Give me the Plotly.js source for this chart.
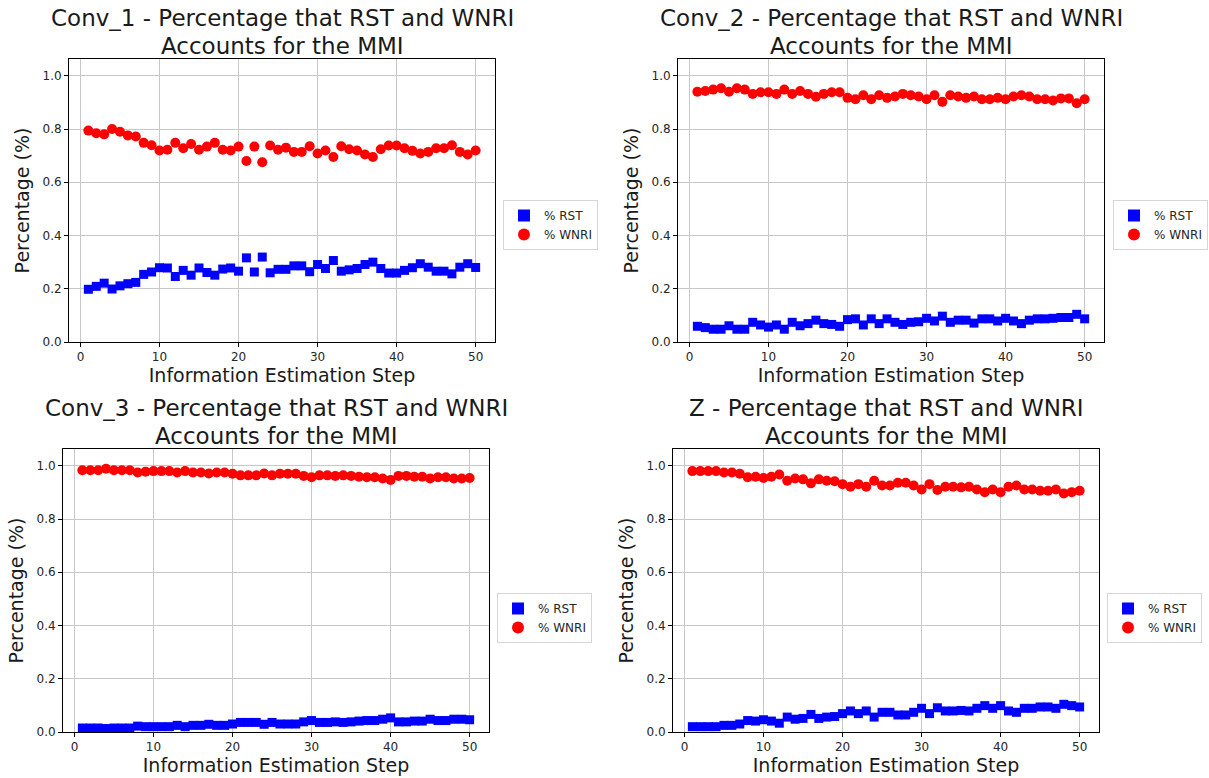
<!DOCTYPE html>
<html>
<head>
<meta charset="utf-8">
<script src="https://cdn.plot.ly/plotly-3.0.1.min.js"></script>
<style>html,body{margin:0;padding:0;background:#fff;}#chart{width:1209px;height:778px;}</style>
</head>
<body>
<div id="chart"></div>
<script>
const steps = Array.from({length: 50}, (_, i) => i + 1);
const panelNames = ["Conv_1", "Conv_2", "Conv_3", "Z"];
const seriesNames = ["% RST", "% WNRI"];
const yTickVals = [0, 0.2, 0.4, 0.6, 0.8, 1.0];
const xTickVals = [0, 10, 20, 30, 40, 50];

const conv1Rst = [0.198,0.209,0.221,0.199,0.211,0.219,0.224,0.254,0.263,0.279,0.278,0.246,0.269,0.251,0.278,0.261,0.251,0.274,0.278,0.266,0.316,0.263,0.319,0.260,0.273,0.273,0.286,0.286,0.264,0.291,0.276,0.306,0.266,0.271,0.276,0.291,0.300,0.276,0.259,0.259,0.269,0.279,0.294,0.281,0.266,0.266,0.256,0.281,0.294,0.280];
const conv1Wnri = [0.794,0.784,0.780,0.800,0.790,0.776,0.772,0.748,0.739,0.719,0.722,0.748,0.728,0.744,0.722,0.734,0.748,0.722,0.719,0.734,0.680,0.734,0.675,0.738,0.722,0.730,0.714,0.714,0.735,0.708,0.719,0.695,0.735,0.724,0.719,0.704,0.695,0.724,0.738,0.738,0.728,0.718,0.708,0.714,0.728,0.728,0.739,0.714,0.704,0.719];
const conv2Rst = [0.059,0.054,0.048,0.048,0.061,0.048,0.048,0.074,0.064,0.056,0.064,0.048,0.074,0.061,0.069,0.082,0.069,0.066,0.059,0.084,0.087,0.064,0.087,0.069,0.087,0.074,0.066,0.074,0.076,0.089,0.079,0.097,0.074,0.082,0.082,0.071,0.087,0.087,0.079,0.089,0.079,0.069,0.082,0.087,0.087,0.089,0.092,0.092,0.104,0.087];
const conv2Wnri = [0.940,0.943,0.948,0.953,0.940,0.953,0.948,0.932,0.938,0.938,0.932,0.948,0.932,0.943,0.932,0.921,0.932,0.938,0.938,0.917,0.912,0.927,0.912,0.927,0.917,0.922,0.932,0.927,0.922,0.912,0.927,0.902,0.927,0.922,0.917,0.922,0.912,0.912,0.917,0.912,0.922,0.927,0.922,0.912,0.912,0.907,0.915,0.915,0.897,0.912];
const conv3Rst = [0.015,0.015,0.015,0.013,0.015,0.015,0.015,0.022,0.020,0.020,0.020,0.020,0.025,0.020,0.025,0.025,0.029,0.025,0.025,0.030,0.036,0.036,0.036,0.029,0.036,0.030,0.030,0.030,0.038,0.043,0.036,0.036,0.038,0.036,0.038,0.041,0.043,0.043,0.048,0.053,0.038,0.038,0.041,0.041,0.048,0.043,0.043,0.048,0.048,0.046];
const conv3Wnri = [0.983,0.983,0.983,0.989,0.983,0.983,0.983,0.975,0.978,0.980,0.980,0.980,0.975,0.980,0.975,0.975,0.971,0.975,0.975,0.970,0.964,0.964,0.964,0.971,0.964,0.970,0.970,0.970,0.962,0.957,0.964,0.964,0.962,0.964,0.962,0.959,0.957,0.957,0.952,0.947,0.962,0.962,0.959,0.959,0.952,0.957,0.957,0.952,0.952,0.954];
const zRst = [0.020,0.020,0.020,0.020,0.025,0.025,0.030,0.043,0.041,0.046,0.041,0.033,0.056,0.048,0.051,0.066,0.051,0.056,0.058,0.069,0.079,0.069,0.079,0.056,0.074,0.074,0.064,0.064,0.074,0.089,0.069,0.091,0.079,0.079,0.081,0.079,0.089,0.099,0.089,0.099,0.079,0.074,0.089,0.089,0.094,0.094,0.089,0.104,0.099,0.094];
const zWnri = [0.980,0.980,0.980,0.980,0.975,0.975,0.970,0.957,0.959,0.954,0.959,0.967,0.944,0.952,0.949,0.934,0.949,0.944,0.942,0.931,0.921,0.931,0.921,0.944,0.926,0.926,0.936,0.936,0.926,0.911,0.931,0.909,0.921,0.921,0.919,0.921,0.911,0.901,0.911,0.901,0.921,0.926,0.911,0.911,0.906,0.906,0.911,0.896,0.901,0.906];

const rstSets = [conv1Rst, conv2Rst, conv3Rst, zRst];
const wnriSets = [conv1Wnri, conv2Wnri, conv3Wnri, zWnri];

const W = 1209, H = 778;
const FONT = "DejaVu Sans, sans-serif";
// plot-area boxes in pixels: [left, right, top, bottom]
const boxes = [
  [69, 495, 59, 342],
  [678, 1104, 59, 342],
  [63, 489, 449, 732],
  [673, 1099, 449, 732]
];
const legendPos = [[503, 200], [1113, 200], [497, 593], [1107, 593]];

const data = [];
const layout = {
  width: W, height: H,
  margin: {l: 0, r: 0, t: 0, b: 0},
  paper_bgcolor: "#ffffff",
  plot_bgcolor: "#ffffff",
  font: {family: FONT, size: 12, color: "#262626"},
  annotations: [],
  showlegend: true
};

for (let p = 0; p < 4; p++) {
  const sfx = p === 0 ? "" : String(p + 1);
  const [l, r, t, b] = boxes[p];
  const legName = "legend" + sfx;
  data.push({
    x: steps, y: rstSets[p], type: "scatter", mode: "markers",
    name: seriesNames[0], xaxis: "x" + sfx, yaxis: "y" + sfx, legend: legName,
    marker: {symbol: "square", size: 9, color: "#0000ff"}
  });
  data.push({
    x: steps, y: wnriSets[p], type: "scatter", mode: "markers",
    name: seriesNames[1], xaxis: "x" + sfx, yaxis: "y" + sfx, legend: legName,
    marker: {symbol: "circle", size: 10, color: "#ff0000"}
  });
  const common = {
    showline: true, mirror: true, linecolor: "#000000", linewidth: 1,
    showgrid: true, gridcolor: "#c8c8c8", gridwidth: 1,
    ticks: "outside", ticklen: 4, tickcolor: "#000000",
    zeroline: false, tickfont: {family: FONT, size: 12, color: "#262626"}
  };
  layout["xaxis" + sfx] = Object.assign({}, common, {
    domain: [l / W, r / W], anchor: "y" + sfx,
    range: [-1.45, 52.45], tickvals: xTickVals,
    title: {text: "Information Estimation Step", font: {family: FONT, size: 19, color: "#1a1a1a"}, standoff: 5}
  });
  layout["yaxis" + sfx] = Object.assign({}, common, {
    domain: [1 - b / H, 1 - t / H], anchor: "x" + sfx,
    range: [0, 1.063], tickvals: yTickVals, tickformat: ".1f",
    title: {text: "Percentage (%)", font: {family: FONT, size: 19, color: "#1a1a1a"}, standoff: 7}
  });
  layout[legName] = {
    x: legendPos[p][0] / W, y: 1 - legendPos[p][1] / H,
    xanchor: "left", yanchor: "top", xref: "paper", yref: "paper",
    bgcolor: "#ffffff", bordercolor: "#d6d6d6", borderwidth: 1,
    font: {family: FONT, size: 12, color: "#262626"},
    tracegroupgap: 0, itemsizing: "constant"
  };
  const titleLines = [panelNames[p] + " - Percentage that RST and WNRI", "Accounts for the MMI"];
  const lineCenters = [t - 41, t - 13];
  for (let k = 0; k < 2; k++) {
    layout.annotations.push({
      text: titleLines[k],
      xref: "paper", yref: "paper",
      x: (l + r) / 2 / W, y: 1 - lineCenters[k] / H,
      xanchor: "center", yanchor: "middle", showarrow: false,
      font: {family: FONT, size: 23, color: "#1a1a1a"}
    });
  }
}

Plotly.newPlot("chart", data, layout, {displayModeBar: false, staticPlot: true});
</script>
</body>
</html>
